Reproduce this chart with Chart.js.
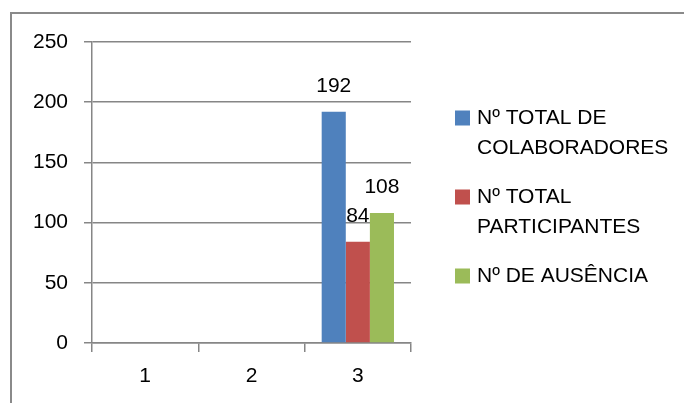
<!DOCTYPE html>
<html>
<head>
<meta charset="utf-8">
<script src="https://cdn.jsdelivr.net/npm/chart.js@4"></script>
<style>
  html, body { margin: 0; padding: 0; background: #fff; }
  #wrap { width: 684px; height: 403px; position: relative; }
</style>
</head>
<body>
<div id="wrap"><canvas id="chart"></canvas></div>
<script>
const categories = ["1", "2", "3"];
const seriesNames = [
  ["Nº TOTAL DE", "COLABORADORES"],
  ["Nº TOTAL", "PARTICIPANTES"],
  ["Nº DE AUSÊNCIA"]
];
const colaboradores = [null, null, 192];
const participantes = [null, null, 84];
const ausencia = [null, null, 108];
const yTicks = [0, 50, 100, 150, 200, 250];

const colors = ["#4F81BD", "#C0504D", "#9BBB59"];
const gridColor = "#868686";
const fontFamily = "'Liberation Sans', Arial, sans-serif";

// outer frame (runs off the right and bottom edge like the original)
const framePlugin = {
  id: "frame",
  beforeDraw(chart) {
    const ctx = chart.ctx;
    ctx.save();
    ctx.fillStyle = "#fff";
    ctx.fillRect(0, 0, chart.width, chart.height);
    ctx.strokeStyle = "#8a8a8a";
    ctx.lineWidth = 2;
    ctx.beginPath();
    ctx.moveTo(11, chart.height + 5);
    ctx.lineTo(11, 13);
    ctx.lineTo(chart.width + 5, 13);
    ctx.stroke();
    ctx.restore();
  }
};

// value labels above each bar
const valueLabels = {
  id: "valueLabels",
  afterDatasetsDraw(chart) {
    const ctx = chart.ctx;
    ctx.save();
    ctx.font = "21px " + fontFamily;
    ctx.fillStyle = "#000";
    ctx.textAlign = "center";
    ctx.textBaseline = "middle";
    chart.data.datasets.forEach((ds, i) => {
      chart.getDatasetMeta(i).data.forEach((bar, j) => {
        const v = ds.data[j];
        if (v === null || v === undefined) return;
        ctx.fillText(String(v), bar.x, bar.y - 26);
      });
    });
    ctx.restore();
  }
};

// legend on the right with wrapped labels
const sideLegend = {
  id: "sideLegend",
  afterDraw(chart) {
    const ctx = chart.ctx;
    const boxX = chart.chartArea.right + 44;
    const textX = boxX + 22;
    const lineH = 30;
    const itemGap = 49;
    ctx.save();
    ctx.font = "21px " + fontFamily;
    ctx.fillStyle = "#000";
    ctx.textAlign = "left";
    ctx.textBaseline = "middle";
    let y = 118;
    chart.data.datasets.forEach((ds) => {
      ctx.fillStyle = ds.backgroundColor;
      ctx.fillRect(boxX, y - 7.5, 15, 15);
      ctx.fillStyle = "#000";
      ds.label.forEach((line, k) => {
        ctx.fillText(line, textX, y + k * lineH);
      });
      y += (ds.label.length - 1) * lineH + itemGap;
    });
    ctx.restore();
  }
};

new Chart(document.getElementById("chart"), {
  type: "bar",
  data: {
    labels: categories,
    datasets: [
      { label: seriesNames[0], data: colaboradores, backgroundColor: colors[0] },
      { label: seriesNames[1], data: participantes, backgroundColor: colors[1] },
      { label: seriesNames[2], data: ausencia, backgroundColor: colors[2] }
    ]
  },
  options: {
    responsive: true,
    maintainAspectRatio: false,
    animation: false,
    layout: { padding: { top: 42, right: 273, left: 0, bottom: 0 } },
    datasets: { bar: { categoryPercentage: 0.68, barPercentage: 1 } },
    plugins: {
      legend: { display: false },
      tooltip: { enabled: false }
    },
    scales: {
      x: {
        offset: true,
        grid: {
          display: true,
          offset: true,
          drawOnChartArea: false,
          drawTicks: true,
          tickLength: 9,
          lineWidth: 1.5,
          color: gridColor
        },
        border: { display: true, color: gridColor, width: 1.5 },
        ticks: {
          color: "#000",
          padding: 12,
          font: { family: fontFamily, size: 21 }
        },
        afterFit(scale) { scale.height = 60; }
      },
      y: {
        min: 0,
        max: 250,
        afterBuildTicks(scale) {
          scale.ticks = yTicks.map((v) => ({ value: v }));
        },
        grid: {
          color: gridColor,
          lineWidth: 1.5,
          tickLength: 8,
          drawTicks: true
        },
        border: { display: true, color: gridColor, width: 1.5 },
        ticks: {
          color: "#000",
          padding: 16,
          font: { family: fontFamily, size: 21 }
        },
        afterFit(scale) { scale.width = 92; }
      }
    }
  },
  plugins: [framePlugin, valueLabels, sideLegend]
});
</script>
</body>
</html>
